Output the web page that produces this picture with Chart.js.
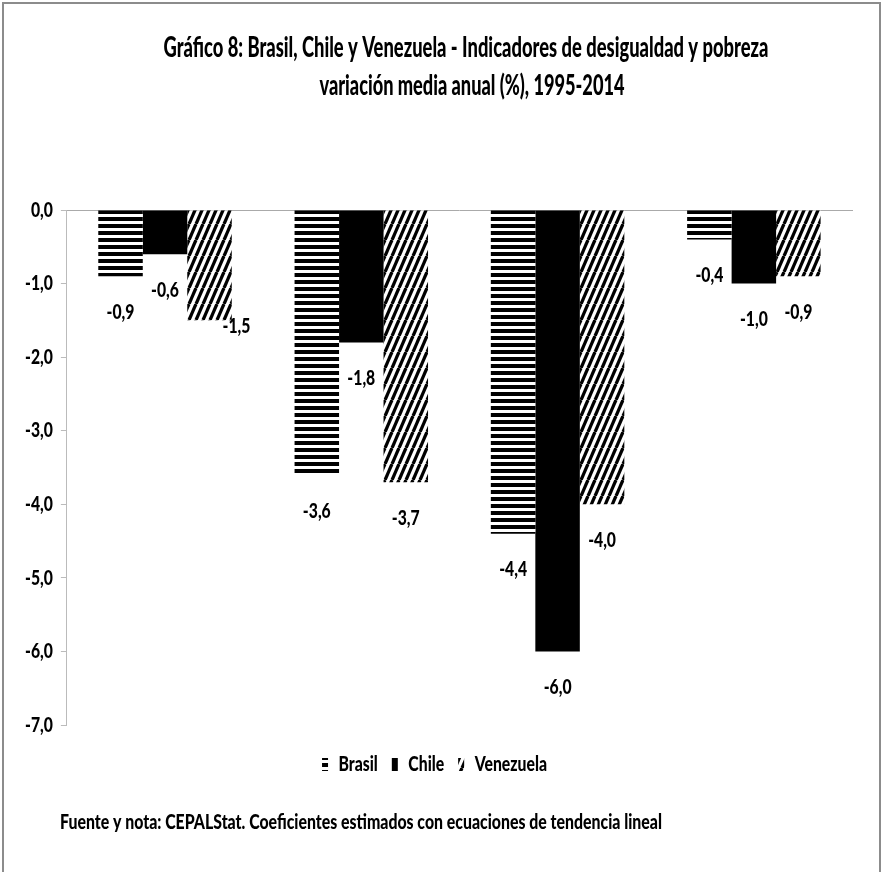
<!DOCTYPE html>
<html>
<head>
<meta charset="utf-8">
<script src="https://cdn.jsdelivr.net/npm/chart.js@4.4.1/dist/chart.umd.min.js"></script>
<style>
  html, body { margin: 0; padding: 0; background: #fff; }
  #wrap { width: 882px; height: 872px; }
</style>
</head>
<body>
<div id="wrap"><canvas id="chart" width="882" height="872"></canvas></div>
<script>
// indicadores (el eje no muestra etiquetas)
var categories = ['Indicador 1', 'Indicador 2', 'Indicador 3', 'Indicador 4'];
var brasil = [-0.9, -3.6, -4.4, -0.4];
var chile = [-0.6, -1.8, -6.0, -1.0];
var venezuela = [-1.5, -3.7, -4.0, -0.9];
var yMin = -7, yMax = 0, yStep = 1;

var titleLines = [
  'Gráfico 8: Brasil, Chile y Venezuela - Indicadores de desigualdad y pobreza',
  'variación media anual (%), 1995-2014'
];
var footNote = 'Fuente y nota: CEPALStat. Coeficientes estimados con ecuaciones de tendencia lineal';

var FONT = "Lato, 'DejaVu Sans Condensed', sans-serif";
var WEIGHT = '900';
var SQUEEZE = 0.75; // the original text is a narrow bold face

var el = document.getElementById('chart');
var ctx = el.getContext('2d');

// squeeze all text horizontally (drawing and measuring), so Chart.js lays it out narrow
var rawFill = ctx.fillText, rawMeasure = ctx.measureText;
ctx.fillText = function(t, x, y) {
  this.save();
  this.translate(x, y);
  this.scale(SQUEEZE, 1);
  rawFill.call(this, t, 0, 0);
  this.restore();
};
ctx.measureText = function(t) {
  var m = rawMeasure.call(this, t);
  return {
    width: m.width * SQUEEZE,
    actualBoundingBoxAscent: m.actualBoundingBoxAscent,
    actualBoundingBoxDescent: m.actualBoundingBoxDescent,
    actualBoundingBoxLeft: m.actualBoundingBoxLeft * SQUEEZE,
    actualBoundingBoxRight: m.actualBoundingBoxRight * SQUEEZE
  };
};

// draw a line of text scaled to a given width
function fitText(c, text, x, y, width) {
  var s = width / rawMeasure.call(c, text).width;
  c.save();
  c.translate(x, y);
  c.scale(s, 1);
  rawFill.call(c, text, 0, 0);
  c.restore();
}

function hStripes() {
  var c = document.createElement('canvas');
  c.width = 8; c.height = 7;
  var x = c.getContext('2d');
  x.fillStyle = '#fff'; x.fillRect(0, 0, 8, 7);
  x.fillStyle = '#000'; x.fillRect(0, 0, 8, 4);
  return ctx.createPattern(c, 'repeat');
}

function diagStripes() {
  var w = 7, h = 16;
  var c = document.createElement('canvas');
  c.width = w; c.height = h;
  var x = c.getContext('2d');
  x.fillStyle = '#fff'; x.fillRect(0, 0, w, h);
  x.strokeStyle = '#000'; x.lineWidth = 3.3;
  for (var k = -1; k <= 1; k++) {
    x.beginPath();
    x.moveTo(k * w, h);
    x.lineTo(k * w + w, 0);
    x.stroke();
  }
  return ctx.createPattern(c, 'repeat');
}

function fmt(v) {
  return Number(v).toFixed(1).replace('.', ',').replace('-0,0', '0,0');
}

// only one label was moved by hand in the original
var labelNudge = { '2-0': [27, -30] };

var sheet = {
  id: 'sheet',
  beforeDraw: function(chart) {
    var c = chart.ctx;
    c.save();
    c.fillStyle = '#fff';
    c.fillRect(0, 0, chart.width, chart.height);
    c.strokeStyle = '#8c8c8c';
    c.lineWidth = 2;
    c.strokeRect(3, 3, chart.width - 5, chart.height + 10);
    c.restore();
  },
  afterDatasetsDraw: function(chart) {
    var c = chart.ctx;
    c.save();
    c.font = WEIGHT + ' 21px ' + FONT;
    c.fillStyle = '#000';
    c.textAlign = 'center';
    c.textBaseline = 'middle';
    chart.data.datasets.forEach(function(ds, i) {
      chart.getDatasetMeta(i).data.forEach(function(bar, j) {
        var n = labelNudge[i + '-' + j] || [0, 0];
        c.fillText(fmt(ds.data[j]), bar.x + n[0], bar.y + 36 + n[1]);
      });
    });
    c.restore();
  },
  afterDraw: function(chart) {
    var c = chart.ctx;
    c.save();
    c.fillStyle = '#000';
    c.textBaseline = 'middle';
    c.textAlign = 'center';
    c.font = WEIGHT + ' 29px ' + FONT;
    fitText(c, titleLines[0], 466, 48, 605);
    fitText(c, titleLines[1], 472, 86, 305);
    c.textAlign = 'left';
    c.font = WEIGHT + ' 21px ' + FONT;
    fitText(c, footNote, 60, 822, 602);
    c.restore();
  }
};

new Chart(ctx, {
  type: 'bar',
  data: {
    labels: categories,
    datasets: [
      { label: 'Brasil', data: brasil, backgroundColor: hStripes(), borderWidth: 0 },
      { label: 'Chile', data: chile, backgroundColor: '#000', borderWidth: 0 },
      { label: 'Venezuela', data: venezuela, backgroundColor: diagStripes(), borderWidth: 0 }
    ]
  },
  options: {
    responsive: false,
    animation: false,
    layout: { padding: { top: 210, right: 30, bottom: 87, left: 17 } },
    datasets: { bar: { barPercentage: 1, categoryPercentage: 0.68 } },
    scales: {
      x: {
        position: 'top',
        ticks: { display: false },
        grid: { display: false, drawTicks: false },
        border: { color: '#aaa', width: 1 }
      },
      y: {
        min: yMin, max: yMax,
        ticks: {
          stepSize: yStep,
          callback: function(v) { return fmt(v); },
          font: { family: FONT, size: 21, weight: WEIGHT },
          color: '#000',
          padding: 8
        },
        grid: { drawOnChartArea: false, tickLength: 6, color: '#bbb' },
        border: { color: '#bbb', width: 1 }
      }
    },
    plugins: {
      legend: {
        position: 'bottom',
        title: { display: true, text: ' ', font: { size: 1, lineHeight: 1 }, padding: { top: 14, bottom: 0 } },
        labels: {
          boxWidth: 6, boxHeight: 13,
          padding: 14,
          color: '#000',
          font: { family: FONT, size: 21, weight: WEIGHT }
        }
      },
      title: { display: false },
      tooltip: { enabled: false }
    }
  },
  plugins: [sheet]
});
</script>
</body>
</html>
